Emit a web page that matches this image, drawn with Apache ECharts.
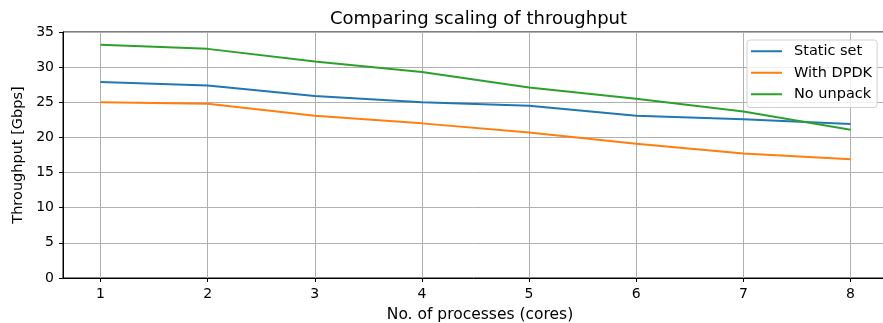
<!DOCTYPE html>
<html><head><meta charset="utf-8">
<script src="https://cdn.jsdelivr.net/npm/echarts@6/dist/echarts.min.js"></script>
<style>html,body{margin:0;padding:0;background:#fff}#c{width:883px;height:323px}</style>
</head><body><div id="c"></div>
<script>
const processes = [1, 2, 3, 4, 5, 6, 7, 8];
const staticSet = [27.9, 27.4, 25.9, 25.0, 24.5, 23.1, 22.6, 21.9];
const withDPDK = [25.0, 24.8, 23.1, 22.0, 20.7, 19.1, 17.7, 16.9];
const noUnpack = [33.2, 32.6, 30.8, 29.3, 27.1, 25.5, 23.7, 21.1];
const yTicks = [0, 5, 10, 15, 20, 25, 30, 35];
const seriesNames = ['Static set', 'With DPDK', 'No unpack'];
const colors = ['#1f77b4', '#ff7f0e', '#2ca02c'];
const font = '"DejaVu Sans"';
const pair = arr => processes.map((p, i) => [p, arr[i]]);
const chart = echarts.init(document.getElementById('c'), null, {renderer: 'canvas'});
chart.setOption({
  animation: false,
  title: {text: 'Comparing scaling of throughput', left: 473.5, top: 5, textAlign: 'center',
    textStyle: {fontFamily: font, fontSize: 18, fontWeight: 'normal', color: '#000'}},
  grid: {left: 63, right: -5, top: 32, bottom: 45, outerBoundsMode: 'none', containLabel: false,
    show: true, borderColor: '#000', borderWidth: 1, backgroundColor: 'transparent'},
  legend: {data: seriesNames, orient: 'vertical', left: 747, top: 40, icon: 'rect', itemWidth: 31, itemHeight: 2,
    itemGap: 5, padding: [3, 5, 5, 4], borderColor: '#d0d0d0', borderWidth: 1, borderRadius: 3, backgroundColor: 'rgba(255,255,255,0.8)',
    textStyle: {fontFamily: font, fontSize: 14.5, lineHeight: 16.5, color: '#000', padding: [0, 0, 0, 7]}},
  xAxis: {type: 'value', min: 0.65, max: 8.35,
    name: 'No. of processes (cores)', nameLocation: 'middle', nameGap: 29,
    nameTextStyle: {fontFamily: font, fontSize: 15.5, color: '#000', padding: [0, 0, 0, 9]},
    axisLine: {lineStyle: {color: '#000', width: 1}},
    axisTick: {customValues: processes, length: 4, lineStyle: {color: '#000'}},
    axisLabel: {customValues: processes, fontFamily: font, fontSize: 14, color: '#000', margin: 9},
    splitLine: {show: true, lineStyle: {color: '#b0b0b0', width: 1}}},
  yAxis: {type: 'value', min: 0, max: 35, interval: 5,
    name: 'Throughput [Gbps]', nameLocation: 'middle', nameGap: 35, nameRotate: 90,
    nameTextStyle: {fontFamily: font, fontSize: 14.5, color: '#000'},
    axisLine: {show: true, lineStyle: {color: '#000', width: 1}},
    axisTick: {show: true, length: 4, lineStyle: {color: '#000'}},
    axisLabel: {fontFamily: font, fontSize: 14, color: '#000', margin: 9,
      formatter: v => yTicks.includes(v) ? String(v) : ''},
    splitLine: {show: true, lineStyle: {color: '#b0b0b0', width: 1}}},
  series: [
    {name: seriesNames[0], type: 'line', data: pair(staticSet), showSymbol: false, symbol: 'none', lineStyle: {color: colors[0], width: 2}, itemStyle: {color: colors[0]}},
    {name: seriesNames[1], type: 'line', data: pair(withDPDK), showSymbol: false, symbol: 'none', lineStyle: {color: colors[1], width: 2}, itemStyle: {color: colors[1]}},
    {name: seriesNames[2], type: 'line', data: pair(noUnpack), showSymbol: false, symbol: 'none', lineStyle: {color: colors[2], width: 2}, itemStyle: {color: colors[2]}}
  ]
});
</script></body></html>
